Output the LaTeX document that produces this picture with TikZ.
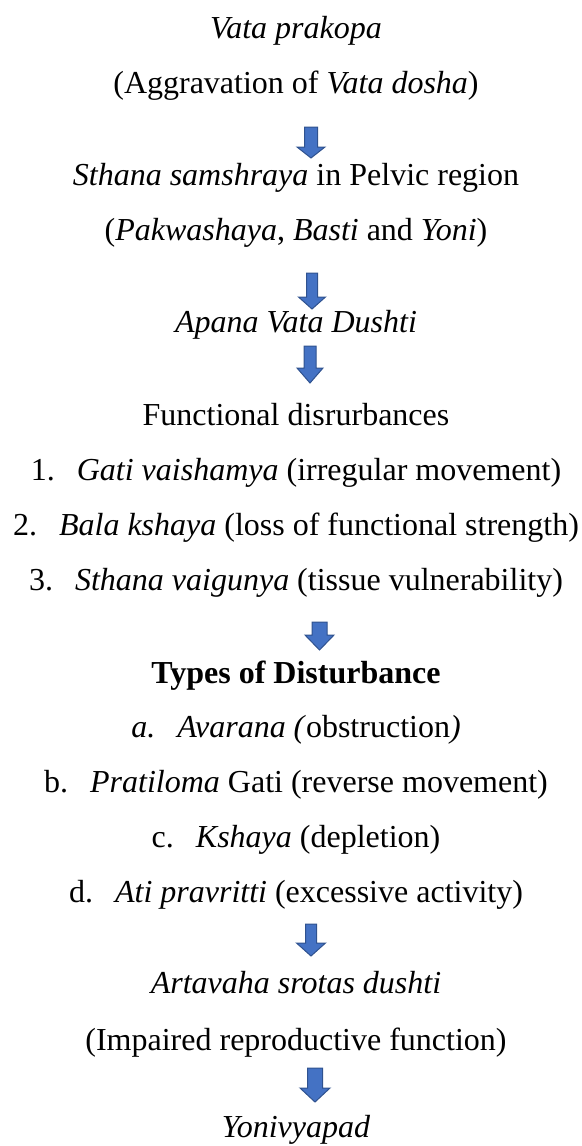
\documentclass[tikz,border=0pt]{standalone}
\usepackage{fontspec}
\setmainfont{Liberation Serif}
\definecolor{arrfill}{HTML}{4472C4}
\definecolor{arrline}{HTML}{2F528F}
\tikzset{
  txt/.style={anchor=base, inner sep=0pt, font=\fontsize{16}{19}\selectfont},
  blockarrow/.style={fill=arrfill, draw=arrline, line width=0.5pt, line join=miter},
}
% centre x, top, head start, tip, shaft half width, head half width
\newcommand\blockdown[6]{%
  \draw[blockarrow] (#1-#5,#2) -- (#1+#5,#2) -- (#1+#5,#3) -- (#1+#6,#3) -- (#1,#4) -- (#1-#6,#3) -- (#1-#5,#3) -- cycle;}
\newcommand\numgap{\hspace{11pt}}
\begin{document}
\begin{tikzpicture}[x=0.5pt, y=-0.5pt]
\useasboundingbox (0,0) rectangle (582,1146);

\node[txt] (l1) at (296,38) {\textit{Vata prakopa}};
\node[txt] (l2) at (296,93) {(Aggravation of \textit{Vata dosha})};
\blockdown{311}{127}{147}{158}{6.5}{14}
\node[txt] (l3) at (296,185) {\textit{Sthana samshraya} in Pelvic region};
\node[txt] (l4) at (296,240) {(\textit{Pakwashaya}, \textit{Basti} and \textit{Yoni})};
\blockdown{312}{273}{297}{309}{5.5}{13.5}
\node[txt] (l5) at (296,332) {\textit{Apana Vata Dushti}};
\blockdown{310}{346}{368}{383}{6}{13}
\node[txt] (l6) at (296,425) {Functional disrurbances};
\node[txt] (i1) at (296,480) {1.\numgap\textit{Gati vaishamya} (irregular movement)};
\node[txt] (i2) at (296,535) {2.\numgap\textit{Bala kshaya} (loss of functional strength)};
\node[txt] (i3) at (296,590) {3.\numgap\textit{Sthana vaigunya} (tissue vulnerability)};
\blockdown{319.5}{622}{635}{650}{7.5}{14.5}
\node[txt] (l7) at (296,683) {\textbf{Types of Disturbance}};
\node[txt] (ia) at (296,737) {\textit{a.}\numgap\textit{Avarana (}obstruction\textit{)}};
\node[txt] (ib) at (296,792) {b.\numgap\textit{Pratiloma} Gati (reverse movement)};
\node[txt] (ic) at (296,847) {c.\numgap\textit{Kshaya} (depletion)};
\node[txt] (id) at (296,902) {d.\numgap\textit{Ati pravritti} (excessive activity)};
\blockdown{311}{924}{943}{956}{5.5}{14.5}
\node[txt] (l8) at (296,993) {\textit{Artavaha srotas dushti}};
\node[txt] (l9) at (296,1050) {(Impaired reproductive function)};
\blockdown{315}{1068}{1088}{1102}{7.5}{15}
\node[txt] (l10) at (296,1137) {\textit{Yonivyapad}};
\end{tikzpicture}
\end{document}
